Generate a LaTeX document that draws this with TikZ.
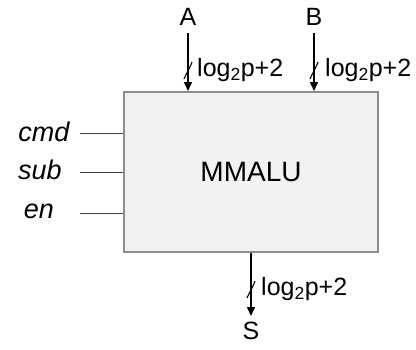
\documentclass[tikz,border=0pt]{standalone}
\usepackage{fontspec}
\setmainfont{Liberation Sans}
\usetikzlibrary{arrows.meta}
\begin{document}
\begin{tikzpicture}[x=1pt,y=-1pt,
  lbl/.style={font=\fontsize{25}{28}\selectfont, inner sep=0pt},
  sig/.style={font=\fontsize{27}{30}\selectfont\itshape, inner sep=0pt},
  bus/.style={line width=1.5pt, -{Triangle[length=9pt,width=8pt]}},
  wire/.style={line width=0.9pt, black!75},
  slash/.style={line width=1.1pt}]
\useasboundingbox (0,0) rectangle (416,349);
\node[draw=black!45, line width=2pt, fill=black!5, minimum width=254pt, minimum height=160pt, inner sep=0pt] (alu) at (251,172) {};
\node[font=\fontsize{28}{32}\selectfont] (name) at (251,172) {MMALU};
% inputs
\node[lbl] (A) at (188,17) {A};
\node[lbl] (B) at (314,17) {B};
\coordinate (atop) at (188,33);
\coordinate (btop) at (314,33);
\coordinate (ain) at (188,91);
\coordinate (bin) at (314,91);
\draw[bus] (atop) -- (ain);
\draw[bus] (btop) -- (bin);
\draw[slash] (184,79) .. controls (187,72) and (189,70) .. (192,62);
\draw[slash] (310,79) .. controls (313,72) and (315,70) .. (318,62);
\node[lbl, anchor=west] (la) at (197,70) {log\textsubscript{2}p+2};
\node[lbl, anchor=west] (lb) at (325,70) {log\textsubscript{2}p+2};
% output
\coordinate (aout) at (251,253);
\coordinate (sbot) at (251,316);
\node[lbl] (S) at (251,331) {S};
\draw[bus] (aout) -- (sbot);
\draw[slash] (247,298) .. controls (250,291) and (252,289) .. (255,281);
\node[lbl, anchor=west] (ls) at (261,289) {log\textsubscript{2}p+2};
% control signals
\node[sig] (cmd) at (44,132) {cmd};
\node[sig] (sub) at (40,170) {sub};
\node[sig] (en) at (39,211) {en};
\coordinate (c1) at (80,133);
\coordinate (c2) at (80,172);
\coordinate (c3) at (80,213);
\draw[wire] (c1) -- (alu.west |- c1);
\draw[wire] (c2) -- (alu.west |- c2);
\draw[wire] (c3) -- (alu.west |- c3);
\end{tikzpicture}
\end{document}
